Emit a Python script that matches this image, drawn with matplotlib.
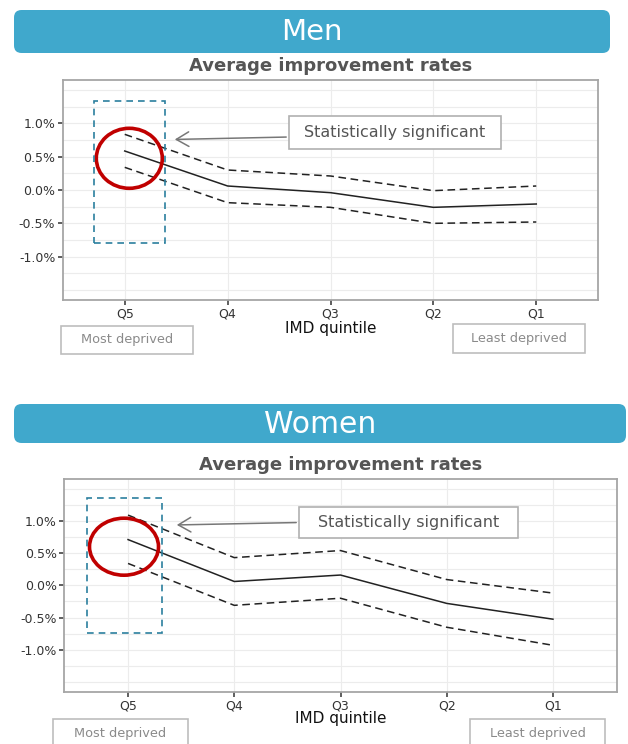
import matplotlib
matplotlib.use("Agg")
import matplotlib.pyplot as plt
import numpy as np
from matplotlib.patches import FancyBboxPatch, Rectangle, Ellipse, FancyArrowPatch

plt.rcParams['font.family'] = ['DejaVu Sans']

# -------------------------------------------------------
# data (improvement rates, %)
# -------------------------------------------------------
quintiles = ['Q5', 'Q4', 'Q3', 'Q2', 'Q1']

men_rate = [0.585, 0.06, -0.04, -0.26, -0.21]
men_upper = [0.835, 0.30, 0.21, -0.01, 0.06]
men_lower = [0.34, -0.19, -0.26, -0.50, -0.48]

women_rate = [0.71, 0.06, 0.16, -0.28, -0.525]
women_upper = [1.09, 0.43, 0.54, 0.09, -0.12]
women_lower = [0.34, -0.31, -0.20, -0.65, -0.93]

yticks = [-1.0, -0.5, 0.0, 0.5, 1.0]

W, H = 628, 744
fig = plt.figure(figsize=(W / 100, H / 100), dpi=100)


def fx(x):
    return x / W


def fy(y):
    return 1 - y / H


BAR_COLOR = '#40a8cc'
GREY_TXT = '#555555'


def panel(label, label_size, bar, sub_y, axbox, rate, upper, lower,
          ann_box, arrow, circ, drect, xlab_y, left_box, right_box):
    # header bar
    x0, y0, x1, y1 = bar
    fig.patches.append(FancyBboxPatch((fx(x0), fy(y1)), fx(x1 - x0), (y1 - y0) / H,
                                      boxstyle='round,pad=0,rounding_size=0.012',
                                      transform=fig.transFigure, facecolor=BAR_COLOR,
                                      edgecolor='none', mutation_aspect=W / H))
    fig.text(fx((x0 + x1) / 2), fy((y0 + y1) / 2 + 1), label, color='white',
             fontsize=label_size, ha='center', va='center')
    fig.text(fx((axbox[0] + axbox[2]) / 2), fy(sub_y), 'Average improvement rates',
             color=GREY_TXT, fontsize=13, fontweight='bold', ha='center', va='center')

    l, t, r, b = axbox
    ax = fig.add_axes([fx(l), fy(b), fx(r - l), (b - t) / H])
    xs = np.arange(1, len(quintiles) + 1)
    ax.plot(xs, rate, color='#222222', lw=1.1)
    ax.plot(xs, upper, color='#222222', lw=1.1, dashes=(5, 3))
    ax.plot(xs, lower, color='#222222', lw=1.1, dashes=(5, 3))
    ax.set_xlim(0.4, 5.6)
    ax.set_ylim(-1.65, 1.65)
    ax.set_xticks(xs)
    ax.set_xticklabels(quintiles)
    ax.set_yticks(yticks)
    ax.set_yticklabels([f'{v:.1f}%' for v in yticks])
    for v in np.arange(-1.5, 1.51, 0.25):
        ax.axhline(v, color='#ececec', lw=0.8, zorder=0)
    for v in xs:
        ax.axvline(v, color='#ececec', lw=0.8, zorder=0)
    for s in ax.spines.values():
        s.set_color('#a6a6a6')
        s.set_linewidth(1.3)
    ax.tick_params(axis='both', colors='#333333', labelsize=9, length=3.5,
                   width=1.1, pad=2)
    fig.text(fx((l + r) / 2), fy(xlab_y), 'IMD quintile', fontsize=11,
             color='#111111', ha='center', va='center')

    # annotation box and arrow
    bx0, by0, bx1, by1 = ann_box
    fig.patches.append(Rectangle((fx(bx0), fy(by1)), fx(bx1 - bx0), (by1 - by0) / H,
                                 transform=fig.transFigure, facecolor='white',
                                 edgecolor='#b0b0b0', lw=1.2, zorder=5))
    fig.text(fx((bx0 + bx1) / 2), fy((by0 + by1) / 2), 'Statistically significant',
             fontsize=11.5, color=GREY_TXT, ha='center', va='center', zorder=6)
    fig.add_artist(FancyArrowPatch(
        (fx(arrow[0]), fy(arrow[1])), (fx(arrow[2]), fy(arrow[3])),
        transform=fig.transFigure, arrowstyle='->,head_length=6,head_width=3.5',
        color='#777777', lw=1.1, mutation_scale=1.5))

    # red circle
    cx, cy, cw, ch = circ
    fig.patches.append(Ellipse((fx(cx), fy(cy)), fx(cw), ch / H,
                               transform=fig.transFigure, facecolor='none',
                               edgecolor='#c00000', lw=2.6, zorder=7))
    # dashed blue rectangle
    dx0, dy0, dx1, dy1 = drect
    fig.patches.append(Rectangle((fx(dx0), fy(dy1)), fx(dx1 - dx0), (dy1 - dy0) / H,
                                 transform=fig.transFigure, facecolor='none',
                                 edgecolor='#2b7f9e', lw=1.2, linestyle=(0, (4, 3)),
                                 zorder=7))

    # deprivation boxes
    for (ex0, ey0, ex1, ey1), txt in ((left_box, 'Most deprived'),
                                      (right_box, 'Least deprived')):
        fig.patches.append(Rectangle((fx(ex0), fy(ey1)), fx(ex1 - ex0), (ey1 - ey0) / H,
                                     transform=fig.transFigure, facecolor='white',
                                     edgecolor='#bdbdbd', lw=1.2))
        fig.text(fx((ex0 + ex1) / 2), fy(min((ey0 + ey1) / 2, ey0 + 14)), txt,
                 fontsize=9.3, color='#8a8a8a', ha='center', va='center')
    return ax


panel('Men', 21, (14, 10, 610, 53), 66, (63, 80, 598, 300),
      men_rate, men_upper, men_lower,
      (289, 116, 501, 149), (289, 137, 172, 139.5),
      (129.3, 158.3, 66, 60), (94, 101, 165, 243),
      328, (61, 326, 193, 354), (453, 324, 585, 353))

panel('Women', 21.5, (14, 404, 626, 443), 465, (64.3, 479, 616.7, 691.7),
      women_rate, women_upper, women_lower,
      (299, 507, 518, 538), (299, 522.5, 174, 525),
      (124, 546.7, 69, 57), (87.3, 498.3, 161.7, 632.7),
      719, (53, 719, 188, 760), (470, 719, 605, 760))

fig.savefig('out.png', dpi=100)
